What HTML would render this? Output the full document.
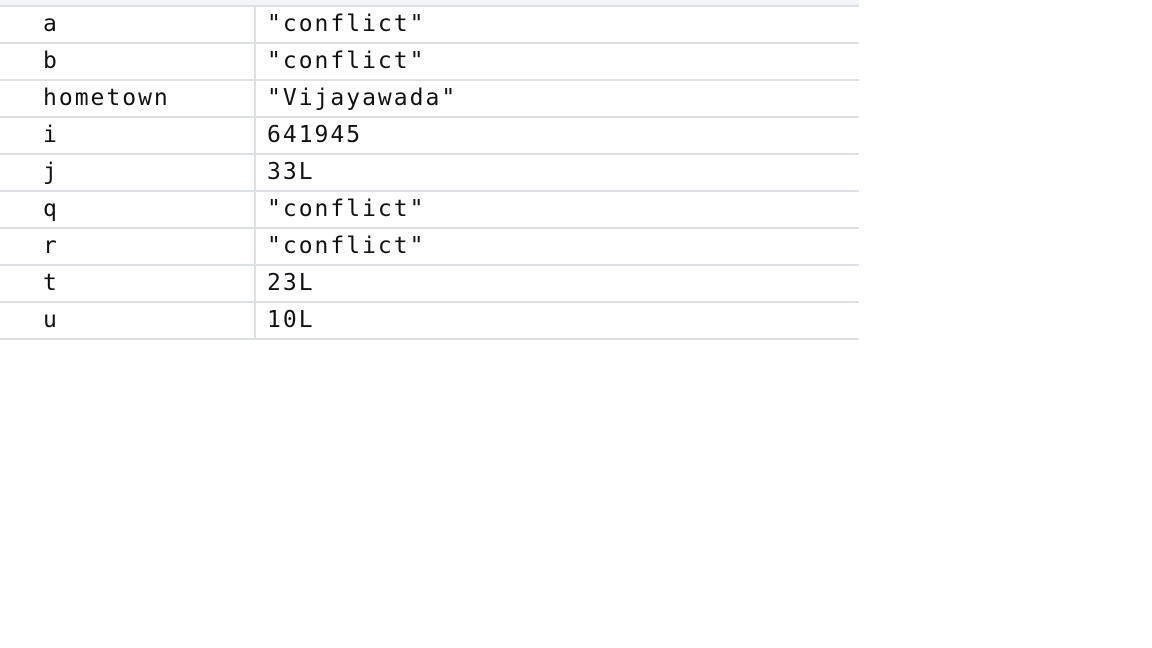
<!DOCTYPE html>
<html><head><style>
body{margin:0;width:1152px;height:648px;background:#fff;position:relative;overflow:hidden;font-family:"DejaVu Sans Mono","Liberation Mono",monospace;}
.top{position:absolute;left:0;top:0;width:859px;height:5px;background:#f3f5f8;border-bottom:2px solid #dde0e4;}
.row{position:absolute;left:0;width:859px;height:35px;border-bottom:2px solid #dde0e4;}
.k{position:absolute;left:43px;top:2px;font-size:23px;letter-spacing:2px;color:#111;line-height:30px;}
.v{position:absolute;left:267px;top:2px;font-size:23px;letter-spacing:2px;color:#111;line-height:30px;}
.div{position:absolute;left:254px;top:7px;width:2px;height:333px;background:#dde0e4;}
</style></head><body>
<div class="top"></div>
<div class="row" style="top:7px"><span class="k">a</span><span class="v">"conflict"</span></div>
<div class="row" style="top:44px"><span class="k">b</span><span class="v">"conflict"</span></div>
<div class="row" style="top:81px"><span class="k">hometown</span><span class="v">"Vijayawada"</span></div>
<div class="row" style="top:118px"><span class="k">i</span><span class="v">641945</span></div>
<div class="row" style="top:155px"><span class="k">j</span><span class="v">33L</span></div>
<div class="row" style="top:192px"><span class="k">q</span><span class="v">"conflict"</span></div>
<div class="row" style="top:229px"><span class="k">r</span><span class="v">"conflict"</span></div>
<div class="row" style="top:266px"><span class="k">t</span><span class="v">23L</span></div>
<div class="row" style="top:303px"><span class="k">u</span><span class="v">10L</span></div>
<div class="div"></div>
</body></html>
